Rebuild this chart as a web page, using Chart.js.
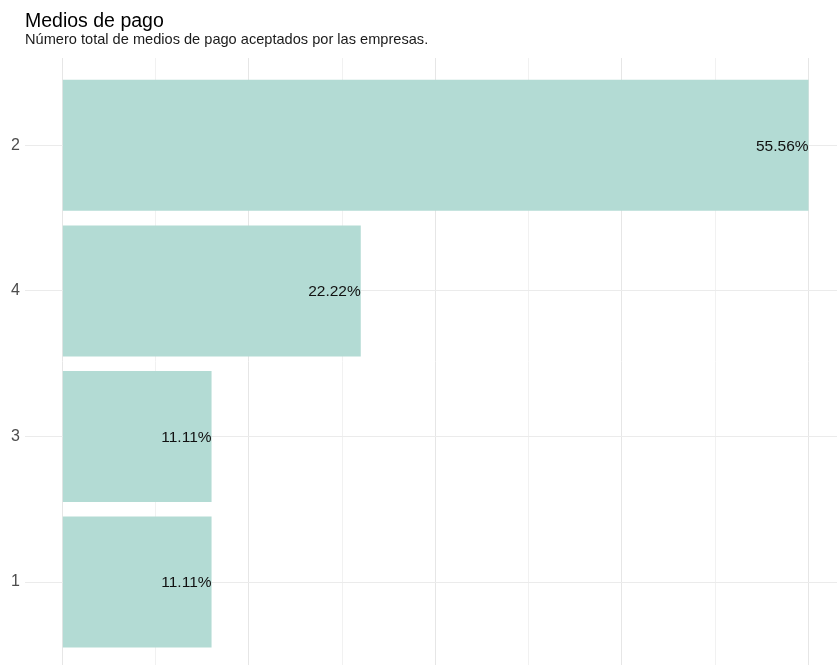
<!DOCTYPE html>
<html>
<head>
<meta charset="utf-8">
<script src="https://cdn.jsdelivr.net/npm/chart.js@4.4.1/dist/chart.umd.min.js"></script>
<style>
  html, body { margin: 0; padding: 0; background: #ffffff; }
  #wrap { width: 837px; height: 665px; position: relative; }
</style>
</head>
<body>
<div id="wrap"><canvas id="c" width="837" height="665"></canvas></div>
<script>
// Number of payment methods accepted (category) and share of companies (%)
const categories = ['2', '4', '3', '1'];
const shares = [55.56, 22.22, 11.11, 11.11];

// Vertical grid breaks: major and minor
const majorBreaks = [0, 13.89, 27.78, 41.67, 55.56];
const minorBreaks = [6.945, 20.835, 34.725, 48.615];

const titleText = 'Medios de pago';
const subtitleText = 'Número total de medios de pago aceptados por las empresas.';

const FONT = '"Liberation Sans", Arial, Helvetica, sans-serif';

const headerPlugin = {
  id: 'header',
  afterDraw(chart) {
    const ctx = chart.ctx;
    ctx.save();
    ctx.fillStyle = '#000000';
    ctx.textAlign = 'left';
    ctx.textBaseline = 'alphabetic';
    ctx.font = '19.5px ' + FONT;
    ctx.fillText(titleText, 25, 27);
    ctx.fillStyle = '#1a1a1a';
    ctx.font = '14.6px ' + FONT;
    ctx.fillText(subtitleText, 25, 44);
    ctx.restore();
  }
};

const valueLabels = {
  id: 'valueLabels',
  afterDatasetsDraw(chart) {
    const ctx = chart.ctx;
    const meta = chart.getDatasetMeta(0);
    ctx.save();
    ctx.fillStyle = '#111111';
    ctx.font = '15.5px ' + FONT;
    ctx.textAlign = 'right';
    ctx.textBaseline = 'middle';
    meta.data.forEach((bar, i) => {
      ctx.fillText(shares[i].toFixed(2) + '%', bar.x, bar.y + 1);
    });
    ctx.restore();
  }
};

const allBreaks = majorBreaks.map(v => ({ value: v, major: true }))
  .concat(minorBreaks.map(v => ({ value: v, major: false })))
  .sort((a, b) => a.value - b.value);

new Chart(document.getElementById('c'), {
  type: 'bar',
  data: {
    datasets: [{
      data: categories.map((c, i) => ({ x: shares[i], y: i + 1 })),
      backgroundColor: '#b3dbd4',
      borderWidth: 0,
      barPercentage: 0.9,
      categoryPercentage: 1
    }]
  },
  options: {
    indexAxis: 'y',
    responsive: false,
    animation: false,
    layout: { padding: { top: 58, left: 0, right: 0, bottom: 0 } },
    plugins: {
      legend: { display: false },
      tooltip: { enabled: false },
      title: { display: false }
    },
    scales: {
      x: {
        type: 'linear',
        min: -2.78,
        max: 57.68,
        afterBuildTicks(scale) {
          scale.ticks = allBreaks.map(b => ({ value: b.value, major: b.major }));
        },
        afterFit(scale) { scale.height = 0; scale.paddingLeft = 0; scale.paddingRight = 0; },
        ticks: { display: false },
        border: { display: false },
        grid: {
          drawTicks: false,
          color: c => (c.tick && c.tick.major) ? '#e6e6e6' : '#f1f1f1',
          lineWidth: 1
        }
      },
      y: {
        type: 'linear',
        reverse: true,
        offset: false,
        min: 0.4,
        max: 4.57,
        afterBuildTicks(scale) {
          scale.ticks = categories.map((c, i) => ({ value: i + 1 }));
        },
        afterFit(scale) { scale.width = 25; scale.paddingTop = 0; scale.paddingBottom = 0; },
        border: { display: false },
        grid: { offset: false, drawTicks: false, color: '#ebebeb', lineWidth: 1 },
        ticks: {
          padding: 5,
          color: '#4d4d4d',
          font: { family: FONT, size: 16 },
          callback: v => categories[Math.round(v) - 1]
        }
      }
    }
  },
  plugins: [headerPlugin, valueLabels]
});
</script>
</body>
</html>
